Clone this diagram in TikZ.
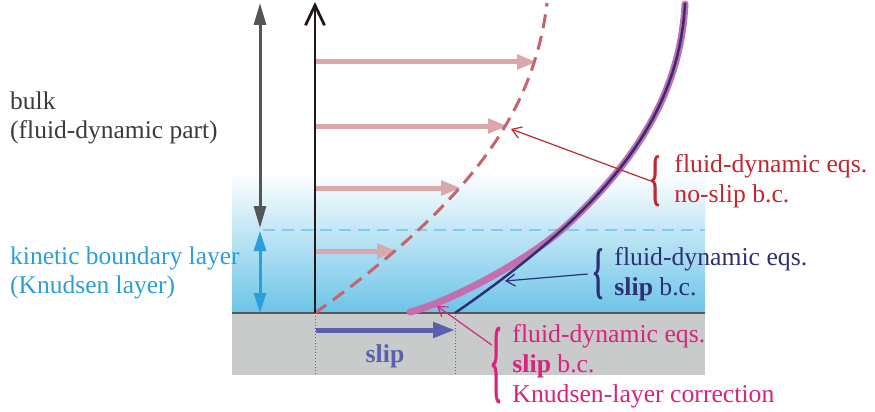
\documentclass[tikz,border=0pt]{standalone}
\usepackage{fontspec}
\usepackage{graphicx}
\setmainfont{Liberation Serif}
\usetikzlibrary{arrows.meta,positioning}

\definecolor{axisblack}{HTML}{231815}
\definecolor{bulkgray}{HTML}{555556}
\definecolor{labelgray}{HTML}{3E3A39}
\definecolor{knblue}{HTML}{2A9FD9}
\definecolor{layerblue}{HTML}{6CC4E8}
\definecolor{dashblue}{HTML}{80CCEC}
\definecolor{wallgray}{HTML}{C9CACA}
\definecolor{walldark}{HTML}{595757}
\definecolor{velpink}{HTML}{DBA7AA}
\definecolor{nsred}{HTML}{C5646B}
\definecolor{nstext}{HTML}{C1272D}
\definecolor{slipnavy}{HTML}{2E3075}
\definecolor{klmagenta}{HTML}{C46EB0}
\definecolor{kltext}{HTML}{D6247F}
\definecolor{slipblue}{HTML}{5A5FAE}

\tikzset{
  lbl/.style={font=\fontsize{25.5}{28.5}\selectfont, align=left, inner sep=0pt, anchor=west},
  eqs/.style={font=\fontsize{25.7}{30}\selectfont, align=left, inner sep=0pt},
  bracebox/.style={font=\fontsize{25.7}{30}\selectfont\bfseries, inner sep=0pt},
  velarrow/.style={velpink, line width=5pt, -{Triangle[length=20pt,width=14pt]}},
  callout/.style={line width=1.2pt, -{Straight Barb[length=9pt,width=12pt]}},
}

\begin{document}
\begin{tikzpicture}[x=1pt, y=-1pt]
  \useasboundingbox (0,0) rectangle (875,412);
  % Knudsen layer and wall
  \shade[top color=white, middle color=layerblue!35, bottom color=layerblue] (232,172) rectangle (705,313);
  \fill[wallgray] (232,313) rectangle (705,375);
  \draw[walldark, line width=2.5pt] (232,313) -- (705,313);
  \draw[dashblue, line width=1.5pt, dash pattern=on 12pt off 7pt] (263,230) -- (705,230);
  % Layer extents
  \draw[bulkgray, line width=3pt, {Triangle[length=22pt,width=12pt]}-{Triangle[length=22pt,width=12pt]}] (260,228) -- (260,3);
  \draw[knblue, line width=3pt, {Triangle[length=20pt,width=12pt]}-{Triangle[length=20pt,width=12pt]}] (260,313) -- (260,231);
  % Slip
  \draw[slipblue, line width=1pt, dotted] (315,313) -- (315,375);
  \draw[slipblue, line width=1pt, dotted] (455,313) -- (455,375);
  \draw[slipblue, line width=5pt, -{Triangle[length=22pt,width=15pt]}] (316,330) -- (455,330);
  \node[font=\fontsize{25.7}{30}\selectfont\bfseries, text=slipblue] (sliplbl) at (385,356) {slip};
  % Velocity profile (no-slip)
  \draw[velarrow] (316,62) -- (537,62);
  \draw[velarrow] (316,126) -- (508,126);
  \draw[velarrow] (316,188) -- (461,188);
  \draw[velarrow] (316,251) -- (397,251);
  \draw[nsred, line width=3pt, dash pattern=on 14pt off 8pt] (315,313) .. controls (469,203) and (534,113) .. (547,3);
  % Slip profiles
  \draw[klmagenta, line width=7pt, line cap=round] (410,312) .. controls (450,302) and (531,259) .. (567.5,224.6)
    .. controls (640.8,156.3) and (680.8,87) .. (685,4);
  \draw[slipnavy, line width=2.5pt] (455,313) .. controls (600,213) and (679,123) .. (685,3);
  % Axis
  \draw[axisblack, line width=2.8pt, -{Straight Barb[length=20pt,width=19pt]}] (315,313) -- (315,2);
  % Labels
  \node[lbl, text=labelgray] (bulklbl) at (10,118) {bulk\\(fluid-dynamic part)};
  \node[lbl, text=knblue] (kbllbl) at (10,273) {kinetic boundary layer\\(Knudsen layer)};
  \node[bracebox, text=nstext] (nsbrace) at (656,181) {\scalebox{1}[2.4]{\{}};
  \node[eqs, text=nstext, right=13pt of nsbrace] (nseqs) {fluid-dynamic eqs.\\no-slip b.c.};
  \node[bracebox, text=slipnavy] (slipbrace) at (599,274) {\scalebox{1}[2.4]{\{}};
  \node[eqs, text=slipnavy, right=10pt of slipbrace] (slipeqs) {fluid-dynamic eqs.\\\textbf{slip} b.c.};
  \node[bracebox, text=kltext] (klbrace) at (497,366) {\scalebox{1}[3.6]{\{}};
  \node[eqs, text=kltext, right=10pt of klbrace] (kleqs) {fluid-dynamic eqs.\\\textbf{slip} b.c.\\Knudsen-layer correction};
  % Callouts
  \coordinate (nstip) at (511,129);
  \coordinate (sliptip) at (505,281);
  \coordinate (kltip) at (437,306);
  \draw[callout, nstext] (nsbrace.west) -- (nstip);
  \draw[callout, slipnavy] ([xshift=-6pt]slipbrace.west) -- (sliptip);
  \draw[callout, kltext] ([yshift=21pt]klbrace.west) -- (kltip);
\end{tikzpicture}
\end{document}
